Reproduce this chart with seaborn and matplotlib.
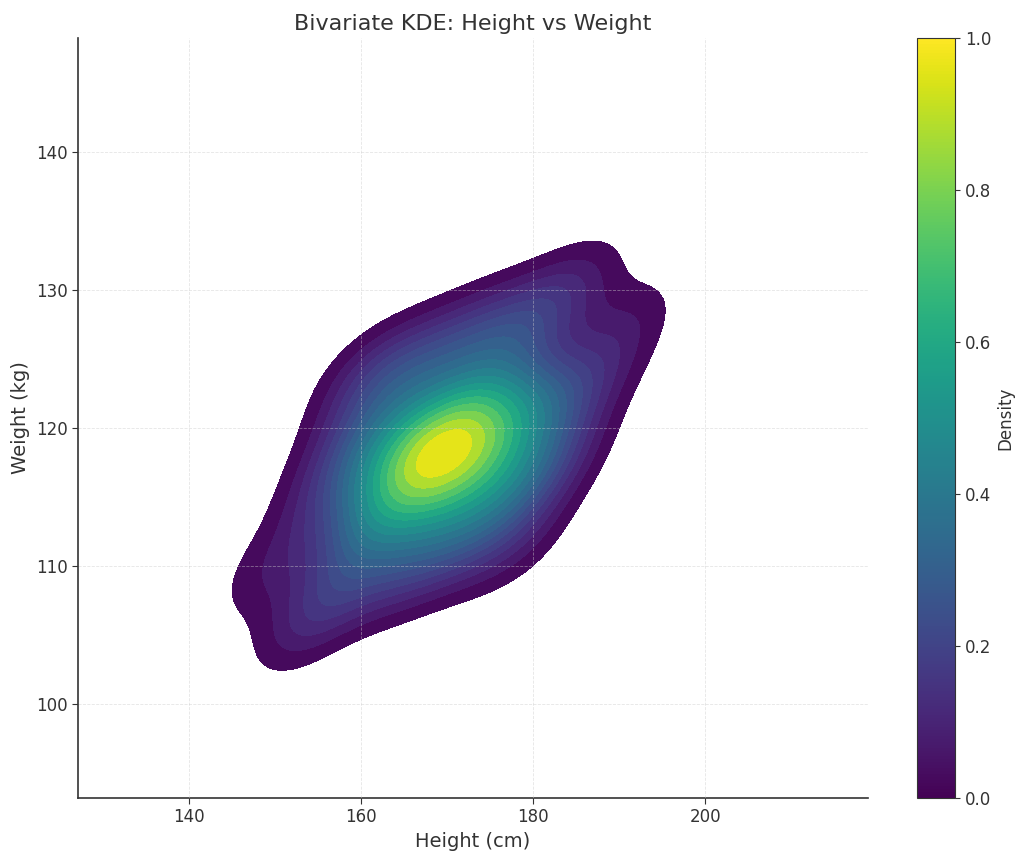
import matplotlib
matplotlib.use("Agg")
import matplotlib.pyplot as plt
import seaborn as sns
import numpy as np
import pandas as pd
from matplotlib.cm import ScalarMappable
from matplotlib.colors import Normalize

# ---- data (estimated sample behind the KDE) ----
heights = [149.0, 153.1, 155.2, 156.7, 157.9, 158.9, 159.8, 160.6, 161.5, 162.1,
           162.7, 163.3, 164.0, 164.5, 165.0, 165.5, 166.0, 166.5, 167.0, 167.5,
           167.9, 168.4, 168.8, 169.3, 169.7, 170.3, 170.7, 171.2, 171.6, 172.1,
           172.5, 173.0, 173.5, 174.0, 174.5, 175.0, 175.5, 176.0, 176.7, 177.3,
           177.9, 178.5, 179.4, 180.2, 181.1, 182.1, 183.3, 184.8, 186.9, 191.0]
weights = [109.6, 105.6, 115.1, 107.6, 118.9, 112.5, 123.7, 111.0, 116.8, 120.0,
           114.0, 124.2, 117.4, 109.1, 118.8, 114.8, 122.3, 116.1, 118.8, 111.4,
           118.4, 125.8, 116.8, 119.7, 114.5, 118.7, 121.5, 116.0, 118.5, 111.1,
           120.0, 126.8, 117.0, 121.4, 113.6, 118.9, 124.1, 117.5, 127.6, 115.7,
           120.7, 111.8, 122.5, 117.4, 127.9, 121.6, 117.5, 130.5, 123.0, 127.5]
x_ticks = [140, 160, 180, 200]
y_ticks = [100, 110, 120, 130, 140]
cbar_ticks = [0.0, 0.2, 0.4, 0.6, 0.8, 1.0]

df = pd.DataFrame({"Height (cm)": heights, "Weight (kg)": weights})

sns.set_style("white")
plt.rcParams["font.family"] = ["DejaVu Sans"]
text_color = "#333333"

fig = plt.figure(figsize=(10.24, 8.59), dpi=100)
ax = fig.add_axes([78 / 1024, 61 / 859, 790 / 1024, 760 / 859])
cax = fig.add_axes([917 / 1024, 61 / 859, 38 / 1024, 760 / 859])

sns.kdeplot(data=df, x="Height (cm)", y="Weight (kg)", fill=True,
            cmap="viridis", levels=20, thresh=0.05, ax=ax)

ax.set_xlim(127.1, 218.9)
ax.set_ylim(93.2, 148.3)
ax.set_xticks(x_ticks)
ax.set_yticks(y_ticks)
ax.grid(True, linestyle="--", linewidth=0.6, color="#cccccc", alpha=0.5)
ax.set_axisbelow(False)
for s in ["top", "right"]:
    ax.spines[s].set_visible(False)
for s in ["left", "bottom"]:
    ax.spines[s].set_color("#333333")
    ax.spines[s].set_linewidth(1.2)
ax.tick_params(axis="both", labelsize=12, colors=text_color, length=4,
               left=True, bottom=True)
ax.set_xlabel("Height (cm)", fontsize=14, color=text_color)
ax.set_ylabel("Weight (kg)", fontsize=14, color=text_color)
ax.set_title("Bivariate KDE: Height vs Weight", fontsize=16, color=text_color, pad=6)

sm = ScalarMappable(norm=Normalize(0, 1), cmap="viridis")
cb = fig.colorbar(sm, cax=cax, ticks=cbar_ticks)
cb.set_label("Density", fontsize=12, color=text_color)
cb.ax.tick_params(labelsize=12, colors=text_color)
cb.outline.set_edgecolor("#333333")

fig.savefig("out.png", dpi=100)
